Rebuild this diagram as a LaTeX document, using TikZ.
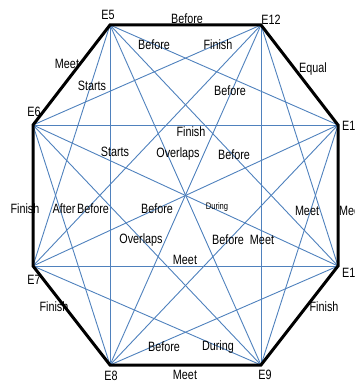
\documentclass[tikz,border=0pt]{standalone}
\usepackage{fontspec}
\setmainfont{Liberation Sans}[FakeStretch=0.8]
\definecolor{chordblue}{RGB}{79,129,189}

\begin{document}
\begin{tikzpicture}[x=1pt,y=-1pt]
\tikzstyle{every node}+=[inner sep=0pt,font=\fontsize{13.5}{15}\selectfont]
\tikzstyle{chord}=[chordblue,line width=0.9pt]
\tikzstyle{side}=[black,line width=3pt]
\tikzstyle{small}=[font=\fontsize{9.5}{11}\selectfont]
\useasboundingbox (0,0) rectangle (354,390);
\coordinate (E5) at (110,25);
\coordinate (E12) at (261,25);
\coordinate (E11) at (338,125);
\coordinate (E10) at (338,266);
\coordinate (E9) at (261,365);
\coordinate (E8) at (110,365);
\coordinate (E7) at (33,266);
\coordinate (E6) at (33,125);
\draw [chord] (E5) -- (E11);
\draw [chord] (E5) -- (E10);
\draw [chord] (E5) -- (E9);
\draw [chord] (E5) -- (E8);
\draw [chord] (E5) -- (E7);
\draw [chord] (E12) -- (E10);
\draw [chord] (E12) -- (E9);
\draw [chord] (E12) -- (E8);
\draw [chord] (E12) -- (E7);
\draw [chord] (E12) -- (E6);
\draw [chord] (E11) -- (E9);
\draw [chord] (E11) -- (E8);
\draw [chord] (E11) -- (E7);
\draw [chord] (E11) -- (E6);
\draw [chord] (E10) -- (E8);
\draw [chord] (E10) -- (E7);
\draw [chord] (E10) -- (E6);
\draw [chord] (E9) -- (E7);
\draw [chord] (E9) -- (E6);
\draw [chord] (E8) -- (E6);
\draw [side] (E5) -- (E12) -- (E11) -- (E10) -- (E9) -- (E8) -- (E7) -- (E6) -- cycle;
\node (n5) at (108,15) {E5};
\node (n12) at (271,20) {E12};
\node [anchor=west] (n11) at (342,126) {E11};
\node [anchor=west] (n10) at (342,273) {E10};
\node (n9) at (265,375) {E9};
\node (n8) at (111,376) {E8};
\node (n7) at (34,280) {E7};
\node (n6) at (34,112) {E6};
\node (r1) at (187,19) {Before};
\node (r2) at (154,45) {Before};
\node (r3) at (218,45) {Finish};
\node (r4) at (67,64) {Meet};
\node (r5) at (313,69) {Equal};
\node (r6) at (92,86) {Starts};
\node (r7) at (230,91) {Before};
\node (r8) at (191,132) {Finish};
\node (r9) at (115,152) {Starts};
\node (r10) at (178,154) {Overlaps};
\node (r11) at (234,155) {Before};
\node (r12) at (25,209) {Finish};
\node (r13) at (64,209) {After};
\node (r14) at (93,209) {Before};
\node (r15) at (157,209) {Before};
\node [small] (r16) at (217,207) {During};
\node (r17) at (307,211) {Meet};
\node [anchor=west] (r18) at (339,211) {Meet};
\node (r19) at (141,240) {Overlaps};
\node (r20) at (228,240) {Before};
\node (r21) at (262,240) {Meet};
\node (r22) at (185,260) {Meet};
\node (r23) at (54,307) {Finish};
\node (r24) at (324,307) {Finish};
\node (r25) at (164,347) {Before};
\node (r26) at (218,347) {During};
\node (r27) at (185,375) {Meet};
\end{tikzpicture}
\end{document}
